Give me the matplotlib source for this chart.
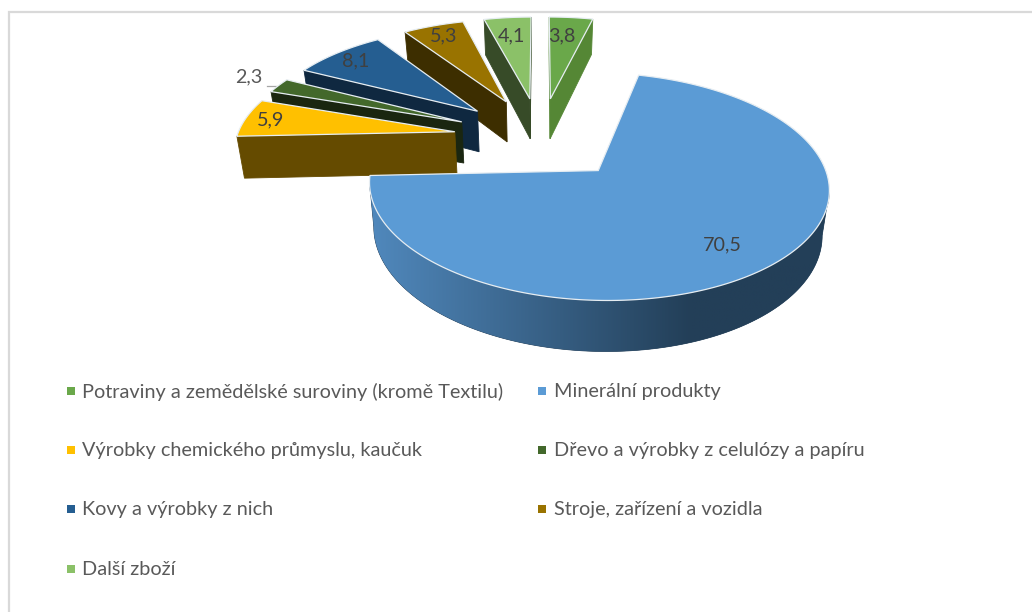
import numpy as np
import matplotlib
matplotlib.use("Agg")
import matplotlib.pyplot as plt
from matplotlib.colors import LinearSegmentedColormap

# data
categories = ["Potraviny a zemědělské suroviny (kromě Textilu)", "Minerální produkty",
              "Výrobky chemického průmyslu, kaučuk", "Dřevo a výrobky z celulózy a papíru",
              "Kovy a výrobky z nich", "Stroje, zařízení a vozidla", "Další zboží"]
values = [3.8, 70.5, 5.9, 2.3, 8.1, 5.3, 4.1]
value_labels = ["3,8", "70,5", "5,9", "2,3", "8,1", "5,3", "4,1"]

top_colors = ["#6AA84A", "#5B9BD5", "#FFC000", "#43682B", "#255E91", "#997300", "#8BC168"]
side_colors = ["#558735", "#365C80", "#654B00", "#1A2610", "#0F2840", "#3D2E00", "#374B28"]
label_pos = [(562, 36), (722, 245), (271, 120), (249, 77), (356, 61), (444, 36), (511, 36)]
label_cols = ["#404040", "#404040", "#404040", "#595959", "#404040", "#404040", "#404040"]
draw_order = [0, 6, 5, 4, 3, 2, 1]

# 3D look: flat circle seen in perspective
X0, Y0 = 540.5, 137.5
SX, SY, K = 218, 102.5, 0.135
DEPTH = 42
SHRINK = 0.975
EXPLODE = 0.4


def project(u, v):
    w = 1 - K * v
    return X0 + SX * u / w, Y0 + SY * v / w


def lower(x, y, v):
    w = 1 - K * v
    return X0 + (x - X0) * SHRINK, y + DEPTH / w


fig = plt.figure(figsize=(10.32, 6.12), dpi=100)
ax = fig.add_axes([0, 0, 1, 1])
ax.set_xlim(0, 1032)
ax.set_ylim(612, 0)
ax.axis("off")

# chart border
ax.plot([9, 9, 1032], [612, 12, 12], color="#D9D9D9", lw=1.6, solid_joinstyle="miter")

# shading of the big slice, light on the left
shade = LinearSegmentedColormap.from_list("shade", ["#5088BC", "#233F58", "#233F58"], N=256)

edges = np.cumsum([0] + values) / sum(values) * 360
for i in draw_order:
    a0, a1 = np.radians(edges[i]), np.radians(edges[i + 1])
    mid = (a0 + a1) / 2
    u0, v0 = EXPLODE * np.sin(mid), -EXPLODE * np.cos(mid)
    t = np.linspace(a0, a1, max(int(np.degrees(a1 - a0)), 2) * 2)
    # outline: apex, arc, apex
    us = np.r_[u0, u0 + np.sin(t), u0]
    vs = np.r_[v0, v0 - np.cos(t), v0]
    xs, ys = project(us, vs)
    bx, by = lower(xs, ys, vs)
    # only faces turned to the viewer
    if i == 1:
        keep = np.where(np.diff(xs) < 0)[0]
        keep = np.r_[keep, keep[-1] + 1]
        face = ax.fill(np.r_[xs[keep], bx[keep][::-1]], np.r_[ys[keep], by[keep][::-1]],
                       color="#233F58", lw=0.5, zorder=2)[0]
        im = ax.imshow(np.linspace(0, 1, 256)[None, :], cmap=shade, aspect="auto", zorder=2,
                       extent=[371, 1010, by.max() + 2, ys[keep].min() - 2])
        im.set_clip_path(face)
        ax.set_xlim(0, 1032)
        ax.set_ylim(612, 0)
    else:
        for j in range(len(xs) - 1):
            if xs[j + 1] - xs[j] < 0:
                ax.fill([xs[j], xs[j + 1], bx[j + 1], bx[j]], [ys[j], ys[j + 1], by[j + 1], by[j]],
                        color=side_colors[i], lw=0.6, zorder=2)
    ax.fill(xs, ys, facecolor=top_colors[i], edgecolor="#E6EDF2", lw=0.9, zorder=2)

for i in range(len(values)):
    ax.text(label_pos[i][0], label_pos[i][1], value_labels[i], color=label_cols[i], fontsize=14.2,
            family="Lato", ha="center", va="center", zorder=3)
# leader of the small label
ax.plot([267, 277], [86, 86], color="#A6A6A6", lw=0.9, zorder=1)

# legend
for i, name in enumerate(categories):
    col = i % 2
    row = i // 2
    x = 67 + col * 471
    y = 391 + row * 59.2
    ax.plot(x + 3.5, y, "s", color=top_colors[i], ms=5.2, mew=0)
    ax.text(x + 15.5, y + 0.5, name, color="#595959", fontsize=14.3, family="Lato", va="center")

fig.savefig("out.png", dpi=100, facecolor="white")
